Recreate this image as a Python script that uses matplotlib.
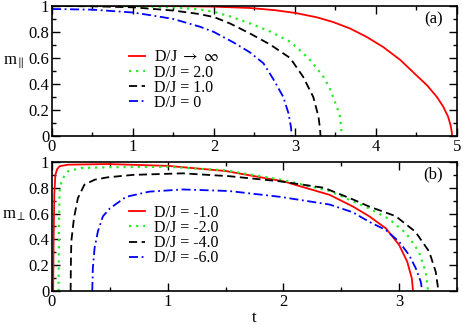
import matplotlib
matplotlib.use('Agg')
import matplotlib.pyplot as plt
from matplotlib.ticker import FuncFormatter, MultipleLocator

plt.rcParams['font.family'] = 'Liberation Serif'
plt.rcParams['mathtext.fontset'] = 'stix'

# panel (a): m_parallel vs t
t_inf = [0, 0.5, 1.0, 1.5, 2.0, 2.44, 2.75, 3.0, 3.27, 3.47, 3.68, 3.88, 4.09, 4.3,
         4.46, 4.63, 4.75, 4.83, 4.89, 4.92, 4.935, 4.94]
m_inf = [1.0, 1.0, 1.0, 0.999, 0.995, 0.985, 0.968, 0.947, 0.913, 0.877, 0.827, 0.764, 0.684, 0.585,
         0.49, 0.39, 0.302, 0.226, 0.149, 0.085, 0.035, 0.0]

t_d2 = [0, 0.5, 1.0, 1.5, 1.8, 2.0, 2.2, 2.44, 2.69, 2.94, 3.06, 3.185, 3.27, 3.35,
        3.42, 3.47, 3.52, 3.556, 3.58]
m_d2 = [1.0, 1.0, 0.998, 0.99, 0.975, 0.955, 0.92, 0.867, 0.805, 0.725, 0.66, 0.585, 0.52, 0.456,
        0.38, 0.3, 0.22, 0.149, 0.0]

t_d1 = [0, 0.5, 1.0, 1.5, 1.8, 2.0, 2.2, 2.44, 2.69, 2.94, 3.1, 3.226, 3.29, 3.31, 3.315]
m_d1 = [1.0, 0.998, 0.99, 0.965, 0.94, 0.915, 0.865, 0.79, 0.705, 0.6, 0.456, 0.3, 0.149, 0.05, 0.0]

t_d0 = [0, 0.5, 1.0, 1.21, 1.5, 1.83, 2.0, 2.24, 2.44, 2.61, 2.73, 2.856, 2.92, 2.95, 2.96]
m_d0 = [0.977, 0.972, 0.95, 0.93, 0.9, 0.84, 0.8, 0.72, 0.645, 0.56, 0.44, 0.3, 0.174, 0.07, 0.0]

# panel (b): m_perp vs t
t_m1 = [0.01, 0.014, 0.02, 0.029, 0.045, 0.066, 0.138, 0.48, 1.0, 1.5, 2.0, 2.4, 2.6, 2.74,
        2.885, 3.0, 3.07, 3.11, 3.12]
m_m1 = [0.0, 0.4, 0.75, 0.9, 0.945, 0.967, 0.979, 0.984, 0.97, 0.93, 0.85, 0.745, 0.655, 0.58,
        0.486, 0.357, 0.227, 0.098, 0.0]

t_m2 = [0.057, 0.06, 0.066, 0.08, 0.095, 0.138, 0.25, 0.48, 1.0, 1.5, 2.0, 2.4, 2.74, 2.91,
        3.06, 3.17, 3.23, 3.25]
m_m2 = [0.0, 0.5, 0.773, 0.84, 0.876, 0.928, 0.953, 0.959, 0.963, 0.935, 0.86, 0.775, 0.64, 0.56,
        0.447, 0.305, 0.15, 0.0]

t_m4 = [0.161, 0.163, 0.167, 0.19, 0.224, 0.28, 0.37, 0.48, 0.7, 1.13, 1.53, 1.97, 2.35, 2.6,
        2.74, 2.97, 3.14, 3.26, 3.316, 3.34]
m_m4 = [0.0, 0.2, 0.385, 0.566, 0.72, 0.824, 0.863, 0.881, 0.9, 0.912, 0.89, 0.85, 0.8, 0.71,
        0.655, 0.58, 0.46, 0.305, 0.15, 0.0]

t_m6 = [0.348, 0.353, 0.368, 0.397, 0.44, 0.5, 0.64, 0.84, 1.13, 1.53, 1.97, 2.4, 2.6, 2.74,
        2.885, 3.0, 3.086, 3.144, 3.187, 3.2]
m_m6 = [0.0, 0.178, 0.333, 0.463, 0.579, 0.64, 0.73, 0.77, 0.787, 0.775, 0.73, 0.67, 0.61, 0.537,
        0.473, 0.382, 0.279, 0.176, 0.072, 0.0]

labels_a = ['D/J $\\rightarrow$ $\\infty$', 'D/J = 2.0', 'D/J = 1.0', 'D/J = 0']
labels_b = ['D/J = -1.0', 'D/J = -2.0', 'D/J = -4.0', 'D/J = -6.0']

red = '#ff0000'
green = '#22ee22'
blue = '#0000ff'
lw = 1.3


def fmt(x, pos):
    return '%g' % x


fig = plt.figure(figsize=(4.63, 3.25), dpi=100)
ax1 = fig.add_axes([0.1123, 0.5815, 0.8747, 0.4])
ax2 = fig.add_axes([0.1123, 0.1046, 0.8747, 0.397])

ax1.plot(t_inf, m_inf, color=red, lw=lw, label=labels_a[0])
ax1.plot(t_d2, m_d2, color=green, lw=1.6, ls=(0, (1, 2.2)), label=labels_a[1])
ax1.plot(t_d1, m_d1, color='black', lw=lw, ls=(0, (4.5, 2.5)), label=labels_a[2])
ax1.plot(t_d0, m_d0, color=blue, lw=lw, ls=(0, (5, 2, 1, 2)), label=labels_a[3])

ax2.plot(t_m1, m_m1, color=red, lw=lw, label=labels_b[0])
ax2.plot(t_m2, m_m2, color=green, lw=1.6, ls=(0, (1, 2.2)), label=labels_b[1])
ax2.plot(t_m4, m_m4, color='black', lw=lw, ls=(0, (4.5, 2.5)), label=labels_b[2])
ax2.plot(t_m6, m_m6, color=blue, lw=lw, ls=(0, (5, 2, 1, 2)), label=labels_b[3])

ax1.set_xlim(0, 5)
ax2.set_xlim(0, 3.5)
for ax in (ax1, ax2):
    ax.set_ylim(0, 1)
    ax.xaxis.set_major_locator(MultipleLocator(1))
    ax.xaxis.set_minor_locator(MultipleLocator(0.5))
    ax.yaxis.set_major_locator(MultipleLocator(0.2))
    ax.yaxis.set_minor_locator(MultipleLocator(0.1))
    ax.xaxis.set_major_formatter(FuncFormatter(fmt))
    ax.yaxis.set_major_formatter(FuncFormatter(fmt))
    ax.tick_params(which='both', direction='in', top=True, right=True,
                   labelsize=12, pad=2)
    ax.tick_params(which='major', length=6, width=1)
    ax.tick_params(which='minor', length=3, width=1)
    for s in ax.spines.values():
        s.set_linewidth(1.2)
    ax.legend(loc='center left', bbox_to_anchor=(0.19, 0.43), frameon=False,
              fontsize=11.5, handlelength=1.0, handletextpad=0.6,
              labelspacing=-0.05, borderaxespad=0, borderpad=0)

ax1.set_ylabel('m$_{\\parallel}$', fontsize=12, rotation=0, ha='center', va='center')
ax1.yaxis.set_label_coords(-0.094, 0.56)
ax2.set_ylabel('m$_{\\perp}$', fontsize=12, rotation=0, ha='center', va='center')
ax2.yaxis.set_label_coords(-0.094, 0.59)
ax2.set_xlabel('t', fontsize=12, labelpad=0)
ax1.text(0.965, 0.9, '(a)', transform=ax1.transAxes, ha='right', va='center', fontsize=12)
ax2.text(0.965, 0.9, '(b)', transform=ax2.transAxes, ha='right', va='center', fontsize=12)

fig.savefig('out.png', dpi=100)
